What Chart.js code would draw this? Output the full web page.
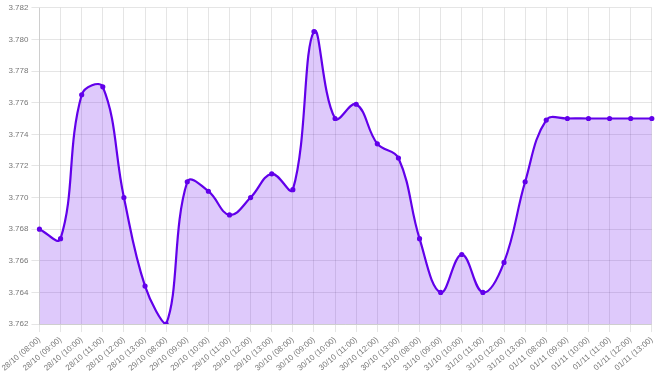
<!DOCTYPE html>
<html lang="en">
<head>
    <meta charset="UTF-8">
    <title>Rate chart</title>
    <script src="https://cdn.jsdelivr.net/npm/chart.js"></script>
    <style>
        html, body { margin: 0; padding: 0; background: #fff; }
        #wrap { width: 661px; height: 376px; }
    </style>
</head>
<body>
    <div id="wrap"><canvas id="rateChart"></canvas></div>

    <script>
        // x axis labels
        const labels = [
            '28/10 (08:00)', '28/10 (09:00)', '28/10 (10:00)', '28/10 (11:00)', '28/10 (12:00)', '28/10 (13:00)',
            '29/10 (08:00)', '29/10 (09:00)', '29/10 (10:00)', '29/10 (11:00)', '29/10 (12:00)', '29/10 (13:00)',
            '30/10 (08:00)', '30/10 (09:00)', '30/10 (10:00)', '30/10 (11:00)', '30/10 (12:00)', '30/10 (13:00)',
            '31/10 (08:00)', '31/10 (09:00)', '31/10 (10:00)', '31/10 (11:00)', '31/10 (12:00)', '31/10 (13:00)',
            '01/11 (08:00)', '01/11 (09:00)', '01/11 (10:00)', '01/11 (11:00)', '01/11 (12:00)', '01/11 (13:00)'
        ];

        // values
        const rates = [
            3.7680, 3.7674, 3.7765, 3.7770, 3.7700, 3.7644,
            3.7620, 3.7710, 3.7704, 3.7689, 3.7700, 3.7715,
            3.7705, 3.7805, 3.7750, 3.7759, 3.7734, 3.7725,
            3.7674, 3.7640, 3.7664, 3.7640, 3.7659, 3.7710,
            3.7749, 3.7750, 3.7750, 3.7750, 3.7750, 3.7750
        ];

        const yMin = 3.762;
        const yMax = 3.782;
        const yStep = 0.002;

        new Chart(document.getElementById('rateChart'), {
            type: 'line',
            data: {
                labels: labels,
                datasets: [{
                    data: rates,
                    borderColor: '#6200ea',
                    backgroundColor: 'rgba(98, 0, 234, 0.21)',
                    borderWidth: 2.2,
                    pointRadius: 1.5,
                    pointBackgroundColor: '#6200ea',
                    pointBorderColor: '#6200ea',
                    tension: 0.4,
                    fill: true
                }]
            },
            options: {
                responsive: true,
                maintainAspectRatio: false,
                animation: false,
                plugins: {
                    legend: { display: false },
                    tooltip: { enabled: false }
                },
                scales: {
                    x: {
                        ticks: {
                            color: '#777',
                            font: { size: 8 },
                            autoSkip: false,
                            maxRotation: 40,
                            minRotation: 40
                        }
                    },
                    y: {
                        min: yMin,
                        max: yMax,
                        ticks: {
                            stepSize: yStep,
                            color: '#777',
                            font: { size: 8 },
                            callback: v => v.toFixed(3)
                        }
                    }
                }
            }
        });
    </script>
</body>
</html>
